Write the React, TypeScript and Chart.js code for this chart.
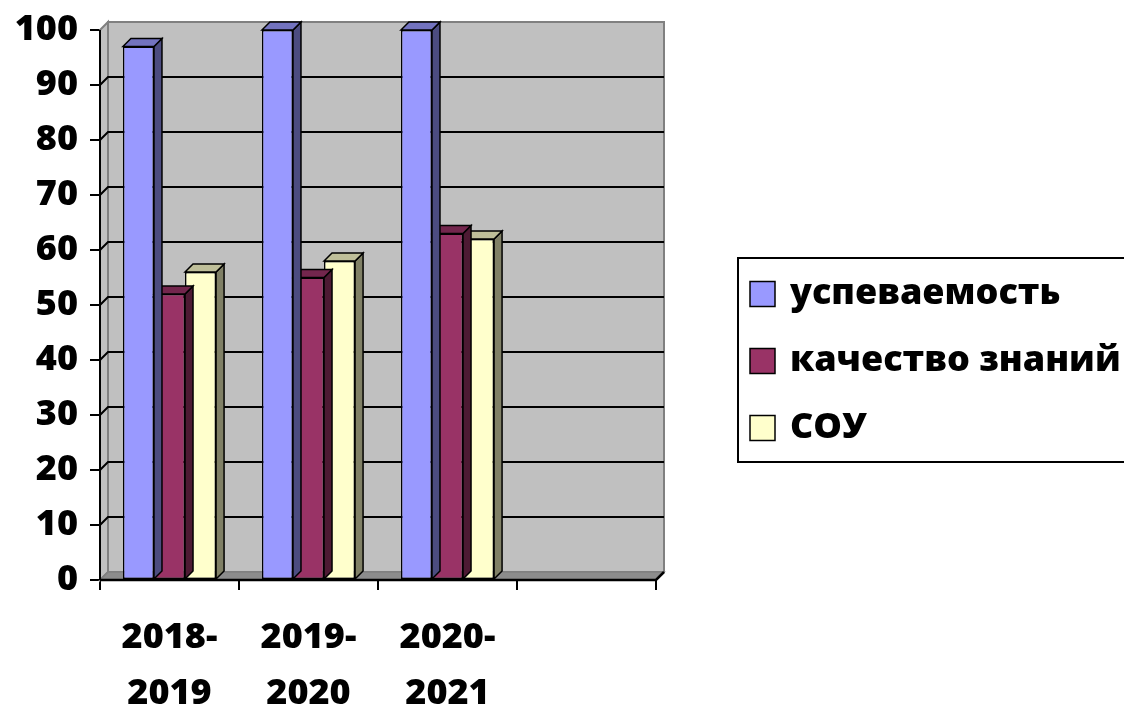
import React, { useEffect, useRef } from 'react';
import { Chart, registerables } from 'chart.js';

Chart.register(...registerables);

const categories: (string | string[])[] = [['2018-', '2019'], ['2019-', '2020'], ['2020-', '2021'], ''];
const seriesNames = ['успеваемость', 'качество знаний', 'СОУ'];
const uspevaemost = [97, 100, 100, null];
const kachestvo = [52, 55, 63, null];
const sou = [56, 58, 62, null];
const yMin = 0;
const yMax = 100;
const yStep = 10;

const frontColors = ['#9999FF', '#993366', '#FFFFCC'];
const sideColors = ['#4C4C80', '#4D1A33', '#808066'];
const topColors = ['#7373BF', '#73264D', '#BFBF99'];

const FONT = "'Open Sans', 'DejaVu Sans', sans-serif";
const DX = 8;
const DY = 8;

function poly(ctx: CanvasRenderingContext2D, pts: number[][], fill: string | null, stroke: string | null, lw = 1.5) {
  ctx.beginPath();
  ctx.moveTo(pts[0][0], pts[0][1]);
  for (let i = 1; i < pts.length; i++) ctx.lineTo(pts[i][0], pts[i][1]);
  ctx.closePath();
  if (fill) {
    ctx.fillStyle = fill;
    ctx.fill();
  }
  if (stroke) {
    ctx.strokeStyle = stroke;
    ctx.lineWidth = lw;
    ctx.stroke();
  }
}

const threeD = {
  id: 'threeD',
  beforeDatasetsDraw(chart: any) {
    const { ctx, chartArea: a } = chart;
    const y = chart.scales.y;
    ctx.save();
    poly(ctx, [[a.left + DX, a.top - DY], [a.right + DX, a.top - DY], [a.right + DX, a.bottom - DY], [a.left + DX, a.bottom - DY]], '#C0C0C0', '#808080', 2);
    poly(ctx, [[a.left, a.top], [a.left + DX, a.top - DY], [a.left + DX, a.bottom - DY], [a.left, a.bottom]], '#C0C0C0', '#808080', 2);
    ctx.strokeStyle = '#000';
    ctx.lineWidth = 2;
    y.ticks.forEach((t: any) => {
      if (t.value <= yMin || t.value >= yMax) return;
      const py = y.getPixelForValue(t.value);
      ctx.beginPath();
      ctx.moveTo(a.left, py);
      ctx.lineTo(a.left + DX, py - DY);
      ctx.lineTo(a.right + DX, py - DY);
      ctx.stroke();
    });
    poly(ctx, [[a.left, a.bottom], [a.left + DX, a.bottom - DY], [a.right + DX, a.bottom - DY], [a.right, a.bottom]], '#8C8C8C', '#808080', 1.5);
    ctx.strokeStyle = '#000';
    ctx.lineWidth = 2.5;
    ctx.beginPath();
    ctx.moveTo(a.left, a.bottom);
    ctx.lineTo(a.right, a.bottom);
    ctx.lineTo(a.right + DX, a.bottom - DY);
    ctx.stroke();
    ctx.lineWidth = 2;
    ctx.beginPath();
    ctx.moveTo(a.left, a.top);
    ctx.lineTo(a.left, a.bottom);
    ctx.stroke();
    ctx.restore();
  },
  beforeDatasetDraw(chart: any, args: any) {
    const { ctx } = chart;
    const i = args.index;
    const meta = args.meta;
    ctx.save();
    meta.data.forEach((bar: any, j: number) => {
      const v = chart.data.datasets[i].data[j];
      if (v == null) return;
      const { x, y, base, width } = bar.getProps(['x', 'y', 'base', 'width'], true);
      const l = x - width / 2;
      const r = x + width / 2;
      poly(ctx, [[r, y], [r + DX, y - DY], [r + DX, base - DY], [r, base]], sideColors[i], '#000', 1.5);
      poly(ctx, [[l, y], [l + DX, y - DY], [r + DX, y - DY], [r, y]], topColors[i], '#000', 1.5);
    });
    ctx.restore();
  },
  afterDraw(chart: any) {
    const { ctx } = chart;
    ctx.save();
    ctx.strokeStyle = '#000';
    ctx.lineWidth = 2;
    ctx.strokeRect(738, 258, 420, 204);
    const rows = [294, 361, 428];
    chart.data.datasets.forEach((ds: any, i: number) => {
      const cy = rows[i];
      ctx.fillStyle = ds.backgroundColor;
      ctx.fillRect(750, cy - 12.5, 25, 25);
      ctx.lineWidth = 1.5;
      ctx.strokeRect(750, cy - 12.5, 25, 25);
      ctx.fillStyle = '#000';
      ctx.font = `800 36px ${FONT}`;
      ctx.textBaseline = 'middle';
      ctx.textAlign = 'left';
      ctx.fillText(ds.label, 790, cy);
    });
    ctx.restore();
  },
};

export default function App() {
  const ref = useRef<HTMLCanvasElement>(null);
  useEffect(() => {
    if (!ref.current) return;
    const seriesData = [uspevaemost, kachestvo, sou];
    const chart = new Chart(ref.current, {
      type: 'bar',
      data: {
        labels: categories,
        datasets: seriesNames.map((name, i) => ({
          label: name,
          data: seriesData[i],
          backgroundColor: frontColors[i],
          borderColor: '#000',
          borderWidth: 1.5,
          borderSkipped: false,
          categoryPercentage: 0.67,
          barPercentage: 1,
        })),
      },
      options: {
        animation: false,
        responsive: false,
        devicePixelRatio: 1,
        layout: { padding: { top: 30, right: 468, left: 0, bottom: 0 } },
        plugins: { legend: { display: false }, tooltip: { enabled: false } },
        scales: {
          x: {
            afterFit: (s: any) => { s.height = 130; },
            grid: { offset: true, drawOnChartArea: false, drawTicks: true, tickLength: 10, color: '#000', lineWidth: 2 },
            border: { display: false },
            ticks: {
              color: '#000',
              padding: 20,
              maxRotation: 0,
              autoSkip: false,
              font: { family: FONT, size: 36, weight: 800, lineHeight: 56 / 36 },
            },
          },
          y: {
            min: yMin,
            max: yMax,
            afterFit: (s: any) => { s.width = 100; },
            grid: { drawOnChartArea: false, drawTicks: true, tickLength: 10, color: '#000', lineWidth: 2 },
            border: { display: false },
            ticks: {
              stepSize: yStep,
              color: '#000',
              padding: 12,
              font: { family: FONT, size: 36, weight: 800, lineHeight: 1 },
            },
          },
        },
      },
      plugins: [threeD],
    } as any);
    return () => chart.destroy();
  }, []);
  return (
    <div style={{ position: 'absolute', left: 0, top: 0, width: 1124, height: 710, background: '#fff' }}>
      <canvas ref={ref} width={1124} height={710} style={{ display: 'block' }} />
    </div>
  );
}
